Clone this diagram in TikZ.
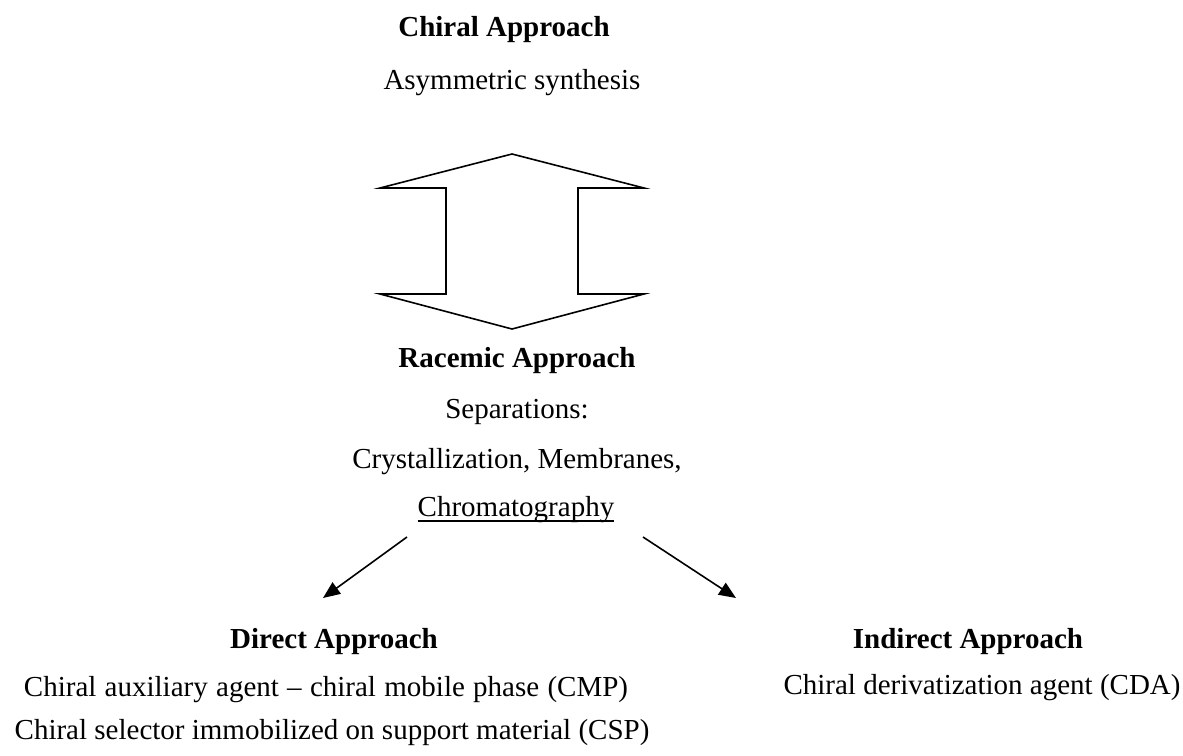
\documentclass[tikz,border=0pt]{standalone}
\usepackage{fontspec}
\setmainfont{Liberation Serif}
\usetikzlibrary{arrows.meta}
\begin{document}
\begin{tikzpicture}[x=1pt,y=-1pt,
  txt/.style={inner sep=0pt, anchor=base, font=\fontsize{29}{34}\selectfont},
  hd/.style={inner sep=0pt, anchor=base, font=\fontsize{29}{34}\selectfont\bfseries},
  outline/.style={line width=1.6pt, line join=miter},
  arr/.style={line width=1.6pt, -{Triangle[length=17pt,width=14pt]}}]
\useasboundingbox (0,0) rectangle (1183,755);
% texts
\node[hd]  (chiral)   at (504,36)  {Chiral Approach};
\node[txt] (asym)     at (512,89)  {Asymmetric synthesis};
\node[hd]  (racemic)  at (517,367) {Racemic Approach};
\node[txt] (sep)      at (517,418) {Separations:};
\node[txt] (cryst)    at (517,468) {Crystallization, Membranes,};
\node[txt] (chrom)    at (516,516) {Chromatography};
\draw[line width=1.5pt] ([yshift=-5pt]chrom.base west) -- ([yshift=-5pt]chrom.base east);
\node[hd]  (direct)   at (334,648) {Direct Approach};
\node[txt] (cmp)      at (326,696) {\spaceskip=8.3pt Chiral auxiliary agent -- chiral mobile phase (CMP)};
\node[txt] (csp)      at (332,739) {Chiral selector immobilized on support material (CSP)};
\node[hd]  (indirect) at (968,648) {Indirect Approach};
\node[txt] (cda)      at (982,694) {Chiral derivatization agent (CDA)};
% double arrow
\draw[outline] (512,154) -- (644,188) -- (578,188) -- (578,294) -- (644,294)
  -- (512,329) -- (380,294) -- (446,294) -- (446,188) -- (380,188) -- cycle;
% branch arrows
\coordinate (ls) at (407,537);
\coordinate (le) at (323,598);
\coordinate (rs) at (643,537);
\coordinate (re) at (736,598);
\draw[arr] (ls) -- (le);
\draw[arr] (rs) -- (re);
\end{tikzpicture}
\end{document}
